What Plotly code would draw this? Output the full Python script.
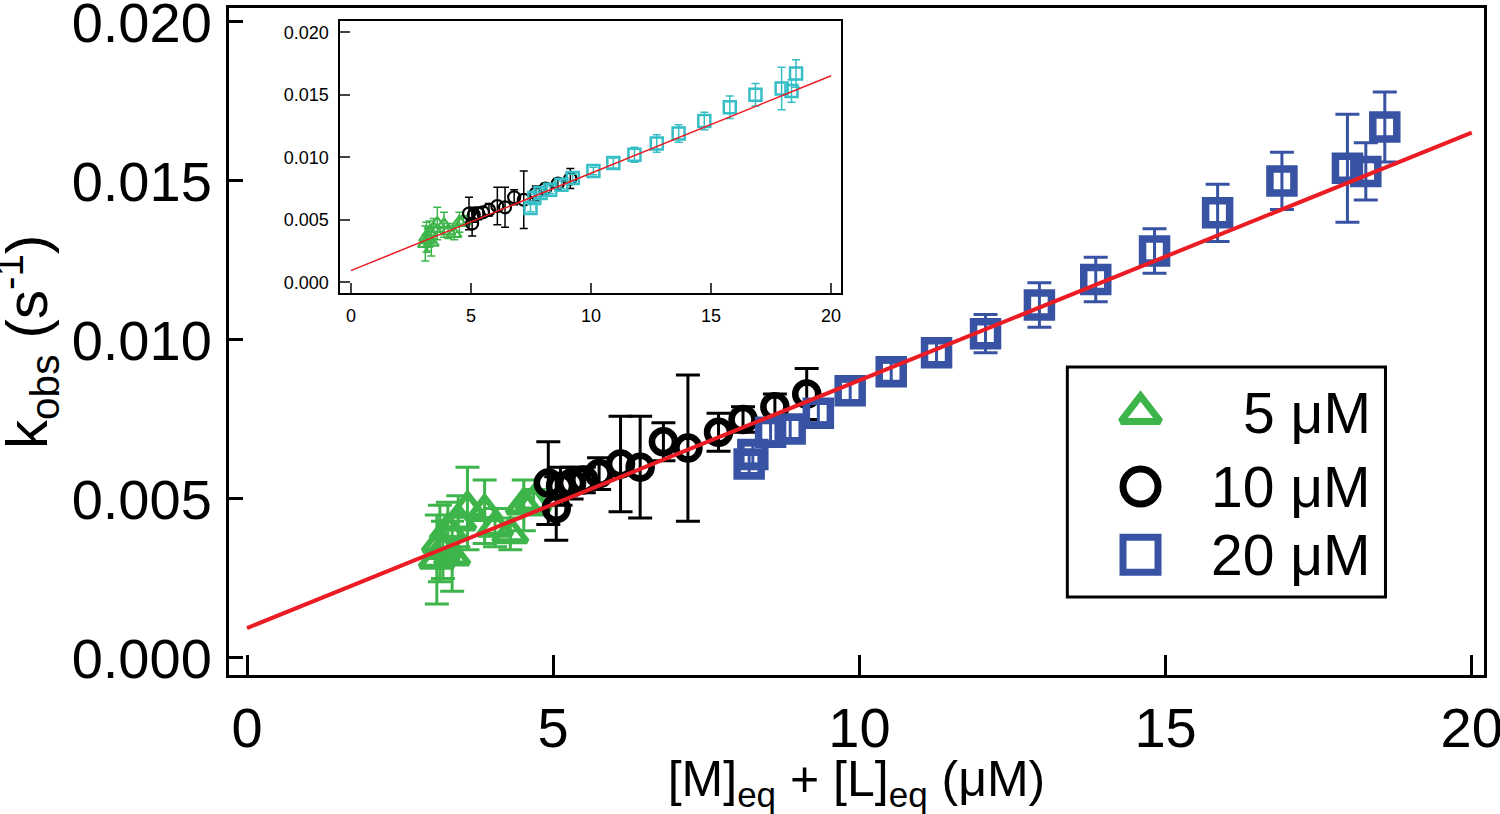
import plotly.graph_objects as go

# Valeurs (x en µM, k_obs en s^-1)
tri_x = [3.10, 3.15, 3.20, 3.28, 3.35, 3.45, 3.60, 3.88, 4.05, 4.30, 4.52, 4.68]
tri_y = [0.0031, 0.0036, 0.0034, 0.0040, 0.0032, 0.0043, 0.0047, 0.0046, 0.0041, 0.0039, 0.0048, 0.0049]
tri_err = [0.0014, 0.0012, 0.0009, 0.0009, 0.0011, 0.0008, 0.0013, 0.0010, 0.0006, 0.0005, 0.0008, 0.0004]

circ_x = [4.92, 5.05, 5.12, 5.30, 5.50, 5.75, 6.10, 6.42, 6.80, 7.20, 7.70, 8.10, 8.62, 9.14]
circ_y = [0.0055, 0.0047, 0.0054, 0.0055, 0.0056, 0.0058, 0.0061, 0.0060, 0.0068, 0.0066, 0.0071, 0.0075, 0.0079, 0.0083]
circ_err = [0.0013, 0.0010, 0.0006, 0.0005, 0.0004, 0.0005, 0.0015, 0.0016, 0.0006, 0.0023, 0.0006, 0.0004, 0.0004, 0.0008]

sq_x = [8.20, 8.26, 8.55, 8.87, 9.33, 9.85, 10.52, 11.26, 12.06, 12.94, 13.86, 14.82, 15.85, 16.90, 17.97, 18.27, 18.58]
sq_y = [0.0061, 0.0064, 0.0071, 0.0072, 0.0077, 0.0084, 0.0090, 0.0096, 0.0102, 0.0111, 0.0119, 0.0128, 0.0140, 0.0150, 0.0154, 0.0153, 0.0167]
sq_err = [0.0003, 0.0003, 0.0003, 0.0003, 0.0003, 0.0003, 0.0003, 0.0004, 0.0006, 0.0007, 0.0007, 0.0007, 0.0009, 0.0009, 0.0017, 0.0009, 0.0011]

# carrés de l'encart (légèrement décalés par rapport au graphique principal)
inset_sq_x = [7.48, 7.64, 7.90, 8.30, 8.77, 9.24, 10.10, 10.93, 11.81, 12.74, 13.65, 14.72, 15.78, 16.85, 17.94, 18.35, 18.54]
inset_sq_y = [0.00595, 0.00675, 0.00715, 0.0074, 0.0078, 0.00835, 0.0089, 0.00955, 0.0102, 0.0111, 0.0119, 0.0129, 0.0140, 0.0150, 0.0155, 0.0153, 0.0167]

fit_x = [0, 20]
fit_y = [0.00094, 0.01652]

legend_labels = ["5 μM", "10 μM", "20 μM"]

GREEN = "#3DB54A"
BLACK = "#000000"
BLUE = "#3953A4"
CYAN = "#35BEC5"
RED = "#EC1C24"
FONT = "Liberation Sans, Arial, sans-serif"

fig = go.Figure()


def add_series(x, y, err, symbol, color, size, lw, capw, ew, xa="x", ya="y"):
    fig.add_trace(go.Scatter(
        x=x, y=y, mode="markers", xaxis=xa, yaxis=ya, showlegend=False,
        marker=dict(symbol=symbol, size=size, color=color, line=dict(color=color, width=lw)),
        error_y=dict(type="data", array=err, visible=True, color=color, thickness=ew, width=capw),
    ))


# Graphique principal
add_series(tri_x, tri_y, tri_err, "triangle-up-open", GREEN, 29, 6, 12, 3)
add_series(circ_x, circ_y, circ_err, "circle-open", BLACK, 23, 6.5, 12, 3)
add_series(sq_x, sq_y, sq_err, "square-open", BLUE, 24, 7.5, 12, 3)
fig.add_trace(go.Scatter(x=fit_x, y=fit_y, mode="lines", line=dict(color=RED, width=4), showlegend=False))

# Encart
add_series(tri_x, tri_y, tri_err, "triangle-up-open", GREEN, 13, 2.2, 4, 1.5, "x2", "y2")
add_series(circ_x, circ_y, circ_err, "circle-open", BLACK, 12, 2.2, 4, 1.5, "x2", "y2")
add_series(inset_sq_x, inset_sq_y, sq_err, "square-open", CYAN, 12, 2.5, 4, 1.5, "x2", "y2")
fig.add_trace(go.Scatter(x=fit_x, y=fit_y, mode="lines", xaxis="x2", yaxis="y2",
                         line=dict(color=RED, width=1.5), showlegend=False))

# Légende dessinée à la main (symboles plus grands que ceux de la légende Plotly)
rows = [0.80, 0.48, 0.183]
leg_styles = [("triangle-up-open", GREEN, 34), ("circle-open", BLACK, 35), ("square-open", BLUE, 35)]
for (sym, col, sz), ry in zip(leg_styles, rows):
    fig.add_trace(go.Scatter(x=[0.23], y=[ry], mode="markers", xaxis="x3", yaxis="y3", showlegend=False,
                             marker=dict(symbol=sym, size=sz, color=col, line=dict(color=col, width=7))))
for lab, ry in zip(legend_labels, rows):
    fig.add_annotation(x=0.962, y=ry, xref="x3", yref="y3", text=lab, showarrow=False,
                       xanchor="right", yanchor="middle", font=dict(size=57, color="black"))

fig.add_shape(type="rect", xref="paper", yref="paper", x0=0.668, x1=0.9215, y0=0.117, y1=0.4618,
              line=dict(color="black", width=3), layer="above")

# Titre de l'axe y placé à la main (plus près du bord que le titre automatique)
fig.add_annotation(x=-0.1606, y=0.5, xref="paper", yref="paper", textangle=-90, showarrow=False,
                   xanchor="center", yanchor="middle",
                   text="k<sub>obs</sub> (s<sup>-1</sup>)", font=dict(size=58, color="black"))

main_axis = dict(showgrid=False, zeroline=False, showline=True, linecolor="black", linewidth=3,
                 mirror=True, ticks="inside", tickcolor="black", tickwidth=2.5, automargin=False,
                 ticklabeloverflow="allow", tickfont=dict(size=56, color="black"))
inset_axis = dict(showgrid=False, zeroline=False, showline=True, linecolor="black", linewidth=1.5,
                  mirror=True, ticks="inside", ticklen=10, tickwidth=1.5, automargin=False,
                  ticklabeloverflow="allow", tickfont=dict(size=18), ticklabelstandoff=6)

fig.update_layout(
    width=1500, height=814,
    margin=dict(l=229, r=16, t=8, b=139),
    font=dict(family=FONT, color="black"),
    plot_bgcolor="white", paper_bgcolor="white",
    xaxis=dict(main_axis, range=[-0.294, 20.2], tickvals=[0, 5, 10, 15, 20], ticklen=20,
               ticklabelstandoff=2,
               title=dict(text="[M]<sub>eq</sub> + [L]<sub>eq</sub> (μM)", font=dict(size=50), standoff=2)),
    yaxis=dict(main_axis, range=[-0.000535, 0.02044], tickvals=[0, 0.005, 0.010, 0.015, 0.020],
               tickformat=".3f", ticklen=14, ticklabelstandoff=3),
    xaxis2=dict(inset_axis, domain=[0.0885, 0.488], anchor="y2", range=[-0.45, 20.43],
                tickvals=[0, 5, 10, 15, 20]),
    yaxis2=dict(inset_axis, domain=[0.5727, 0.980], anchor="x2", range=[-0.00085, 0.02087],
                tickvals=[0, 0.005, 0.010, 0.015, 0.020], tickformat=".3f"),
    xaxis3=dict(domain=[0.668, 0.9215], anchor="y3", range=[0, 1], visible=False),
    yaxis3=dict(domain=[0.117, 0.4618], anchor="x3", range=[0, 1], visible=False),
)

# la marge par défaut du <body> décale la figure de 8 px : on la supprime
fig.write_html("out.html", config={"displayModeBar": False},
               post_script="document.body.style.margin='0';")
